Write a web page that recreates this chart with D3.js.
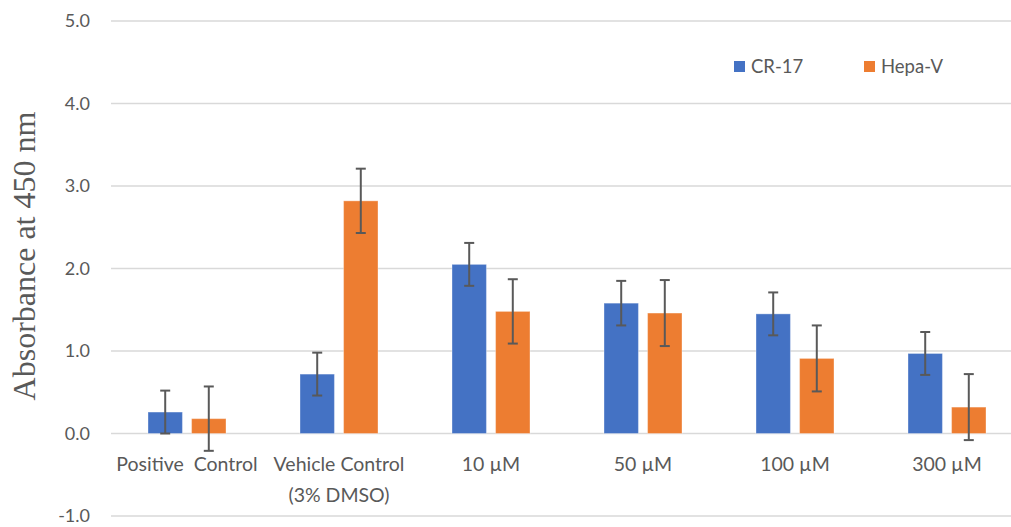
<!DOCTYPE html>
<html>
<head>
<meta charset="utf-8">
<script src="https://cdn.jsdelivr.net/npm/d3@7"></script>
<style>
  html, body { margin: 0; padding: 0; background: #fff; }
  svg { display: block; }
</style>
</head>
<body>
<div id="chart"></div>
<script>
// Absorbance readings per treatment group
const categories = ["Positive  Control", "Vehicle Control\n(3% DMSO)", "10 \u00b5M", "50 \u00b5M", "100 \u00b5M", "300 \u00b5M"];
const seriesNames = ["CR-17", "Hepa-V"];
const cr17Values = [0.26, 0.72, 2.05, 1.58, 1.45, 0.97];
const cr17Errors = [0.26, 0.26, 0.26, 0.27, 0.26, 0.26];
const hepaValues = [0.18, 2.82, 1.48, 1.46, 0.91, 0.32];
const hepaErrors = [0.39, 0.39, 0.39, 0.40, 0.40, 0.40];
const yTicks = [-1, 0, 1, 2, 3, 4, 5];

const W = 1011, H = 527;
const colors = ["#4472C4", "#ED7D31"];
const tickFont = "Lato, 'Open Sans', sans-serif";

const svg = d3.select("#chart").append("svg")
  .attr("width", W).attr("height", H);

const yScale = d3.scaleLinear().domain([-1, 5]).range([516, 21]);
const xScale = d3.scaleBand().domain(categories).range([111, 1023]).paddingInner(0).paddingOuter(0);
const inner = d3.scaleBand().domain(seriesNames).range([37, xScale.bandwidth() - 37]).paddingInner(0.21);

// horizontal gridlines
svg.append("g").selectAll("line").data(yTicks).join("line")
  .attr("x1", 111).attr("x2", W)
  .attr("y1", d => yScale(d)).attr("y2", d => yScale(d))
  .attr("stroke", "#d9d9d9").attr("stroke-width", 1.5);

// y axis tick labels (plain hyphen for negatives)
const fmt = d3.format(".1f");
const yAxis = d3.axisLeft(yScale).tickValues(yTicks)
  .tickFormat(d => fmt(d).replace("\u2212", "-")).tickSize(0).tickPadding(0);
const yg = svg.append("g").attr("transform", "translate(90,0)").call(yAxis);
yg.select(".domain").remove();
yg.selectAll("text").attr("fill", "#595959").style("font-family", tickFont).style("font-size", "18px");

// y axis title
svg.append("text")
  .attr("transform", "translate(35,256) rotate(-90)")
  .attr("text-anchor", "middle")
  .style("font-family", "'Liberation Serif', 'Times New Roman', serif")
  .style("font-size", "32px")
  .attr("fill", "#595959")
  .text("Absorbance at 450 nm");

const series = [
  { name: seriesNames[0], values: cr17Values, errors: cr17Errors },
  { name: seriesNames[1], values: hepaValues, errors: hepaErrors }
];

series.forEach((s, si) => {
  const g = svg.append("g");
  const rows = categories.map((c, i) => ({ c, v: s.values[i], e: s.errors[i] }));
  g.selectAll("rect").data(rows).join("rect")
    .attr("x", d => xScale(d.c) + inner(s.name))
    .attr("width", inner.bandwidth())
    .attr("y", d => yScale(Math.max(0, d.v)))
    .attr("height", d => Math.abs(yScale(d.v) - yScale(0)))
    .attr("fill", colors[si])
    .attr("stroke", "#fff").attr("stroke-opacity", 0.35).attr("stroke-width", 1);

  // error bars
  const eg = g.selectAll("g.err").data(rows).join("g").attr("class", "err");
  const cx = d => xScale(d.c) + inner(s.name) + inner.bandwidth() / 2;
  eg.append("line")
    .attr("x1", cx).attr("x2", cx)
    .attr("y1", d => yScale(d.v + d.e)).attr("y2", d => yScale(d.v - d.e));
  eg.append("line")
    .attr("x1", d => cx(d) - 5).attr("x2", d => cx(d) + 5)
    .attr("y1", d => yScale(d.v + d.e)).attr("y2", d => yScale(d.v + d.e));
  eg.append("line")
    .attr("x1", d => cx(d) - 5).attr("x2", d => cx(d) + 5)
    .attr("y1", d => yScale(d.v - d.e)).attr("y2", d => yScale(d.v - d.e));
  eg.selectAll("line").attr("stroke", "#595959").attr("stroke-width", 2);
});

// category labels
const xl = svg.append("g").selectAll("text").data(categories).join("text")
  .attr("x", d => xScale(d) + xScale.bandwidth() / 2)
  .attr("y", 471)
  .attr("text-anchor", "middle")
  .attr("fill", "#595959")
  .style("font-family", tickFont).style("font-size", "19.5px")
  .style("white-space", "pre")
  .attr("xml:space", "preserve");
xl.each(function(d) {
  const lines = d.split("\n");
  d3.select(this).selectAll("tspan").data(lines).join("tspan")
    .attr("x", xScale(d) + xScale.bandwidth() / 2)
    .attr("dy", (l, i) => i === 0 ? 0 : 31)
    .text(l => l);
});

// legend
const legendX = [734, 864];
const lg = svg.append("g").selectAll("g").data(seriesNames).join("g")
  .attr("transform", (d, i) => `translate(${legendX[i]},61)`);
lg.append("rect").attr("width", 11).attr("height", 11).attr("fill", (d, i) => colors[i]);
lg.append("text").attr("x", 17).attr("y", 12)
  .attr("fill", "#595959")
  .style("font-family", tickFont).style("font-size", "18.5px")
  .text(d => d);
</script>
</body>
</html>
